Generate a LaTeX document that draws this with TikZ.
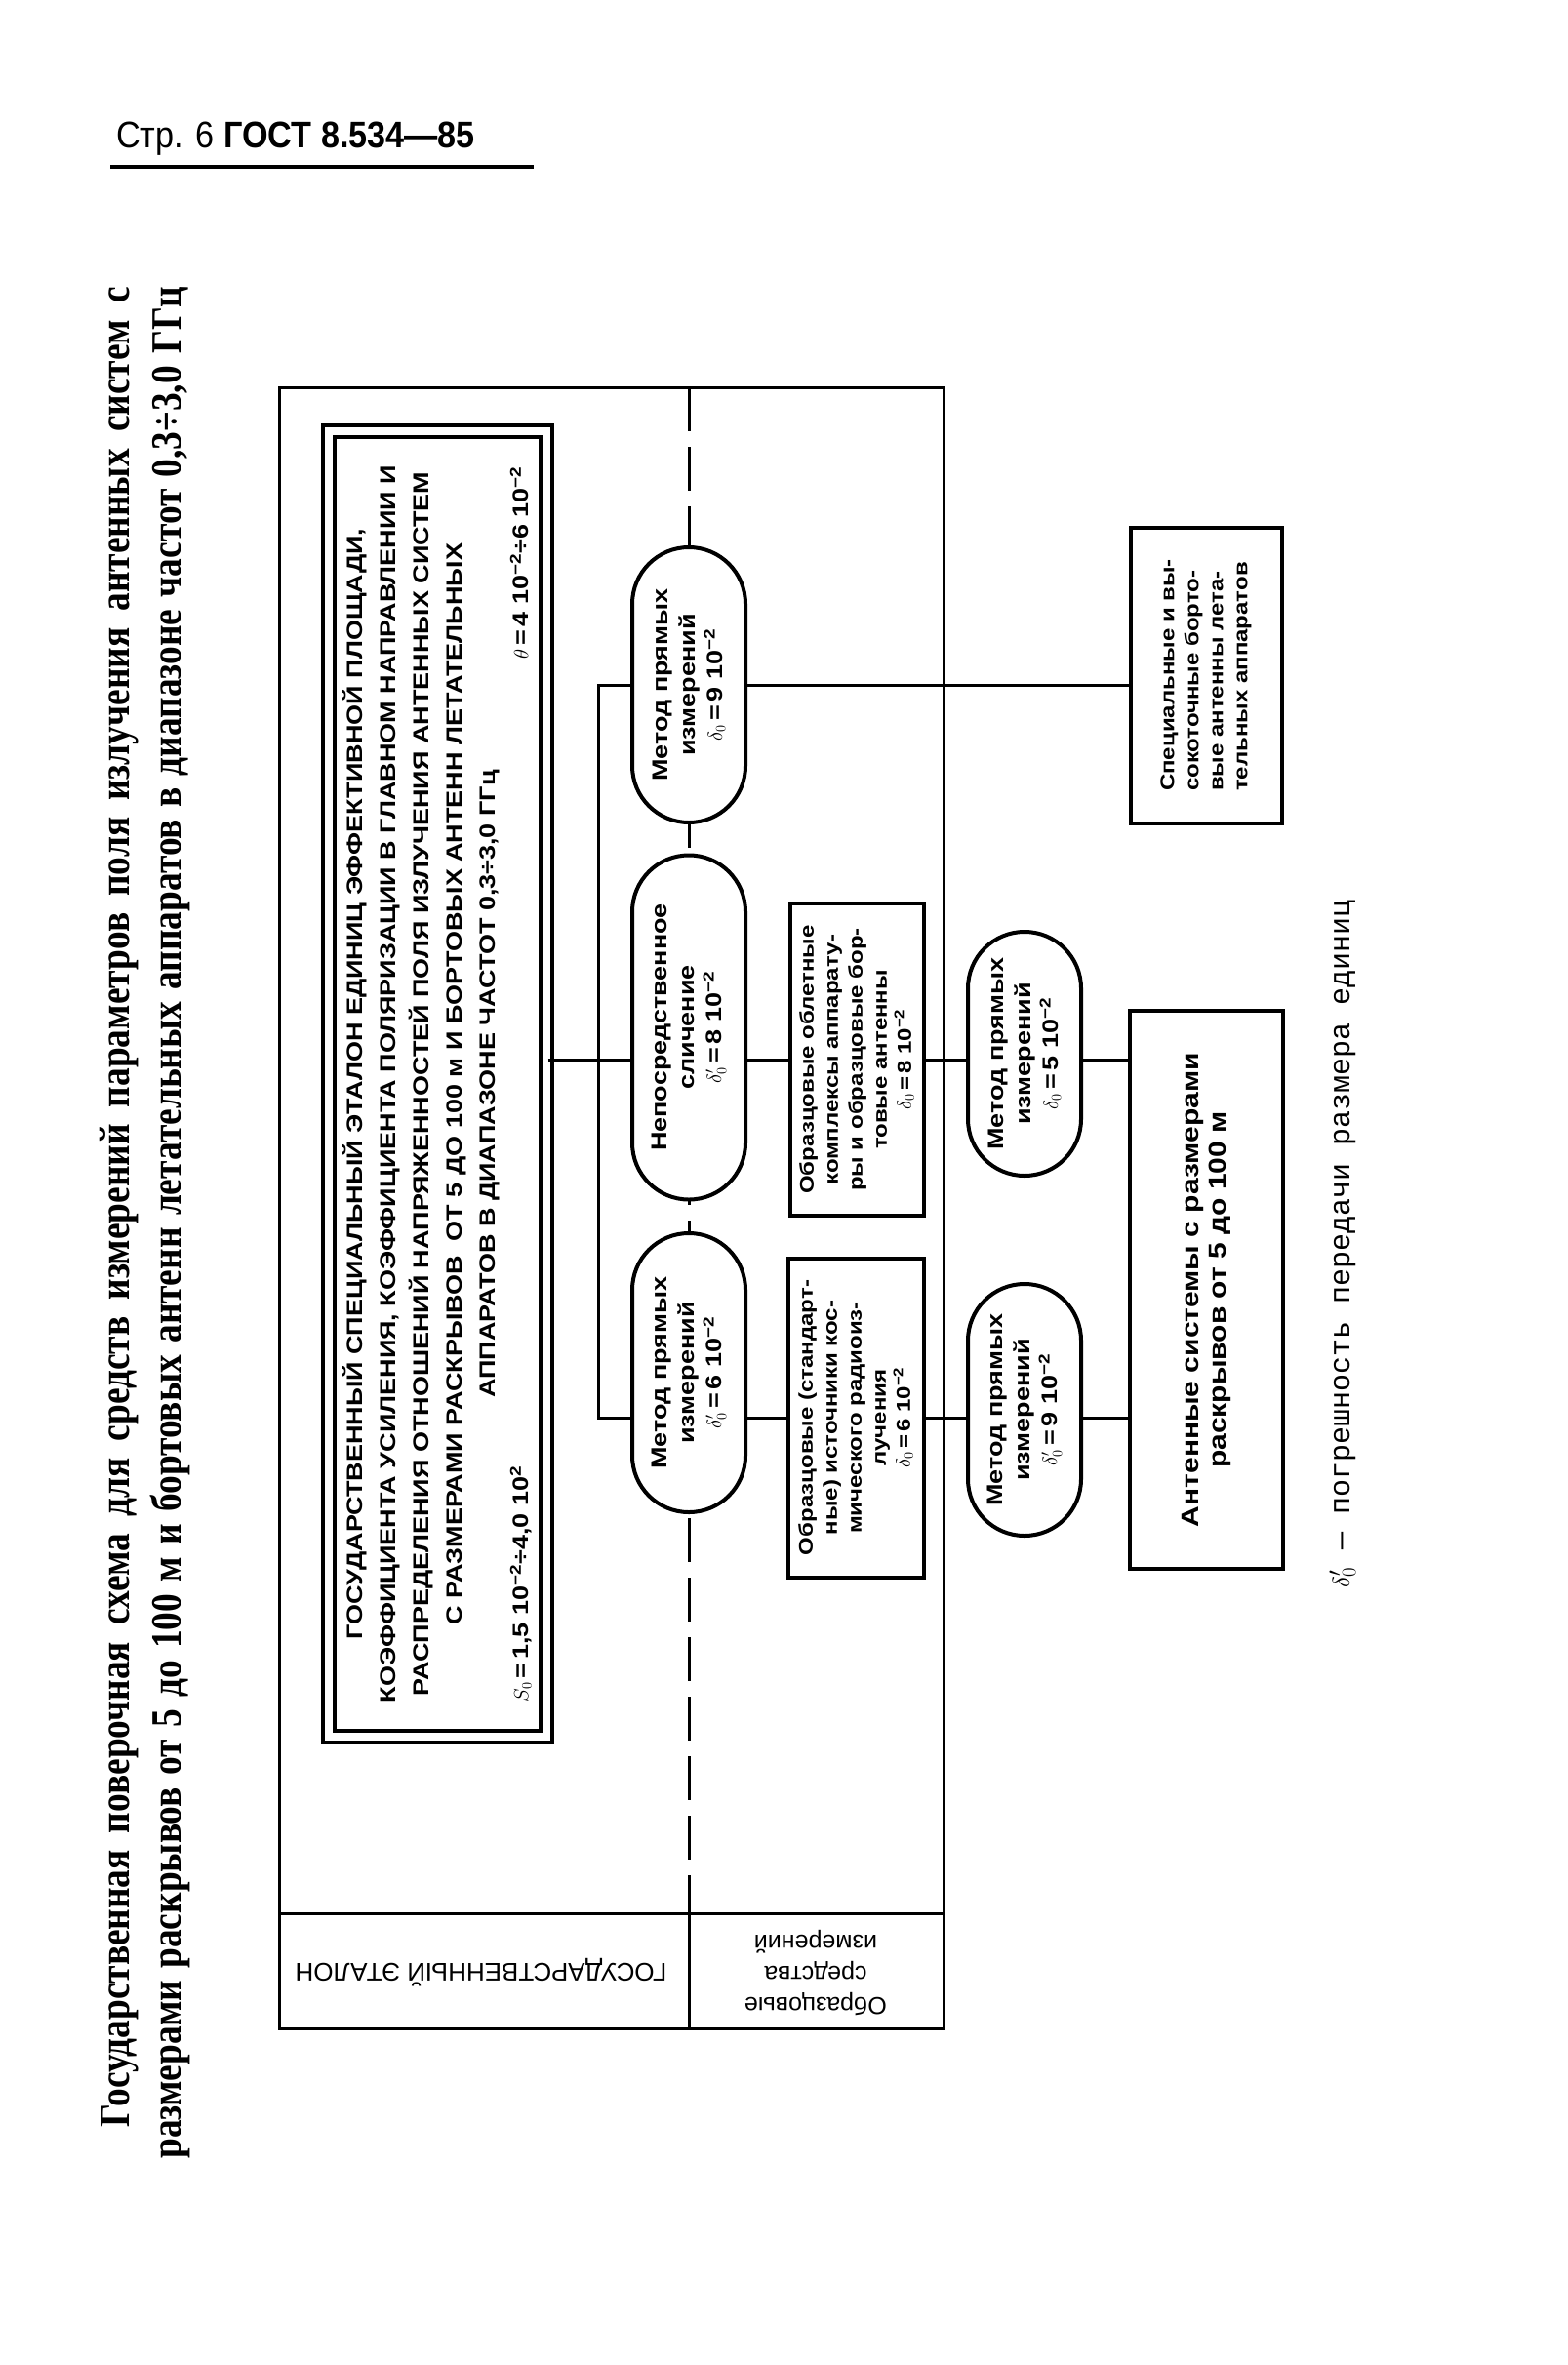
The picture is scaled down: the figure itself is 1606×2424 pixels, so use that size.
\documentclass[tikz,border=0pt]{standalone}
\usepackage{fontspec}
\setmainfont{Liberation Sans}
\newfontfamily\widesans[FakeStretch=1.2]{Liberation Sans}
\newfontfamily\headsans[FakeStretch=0.9]{Liberation Sans}
\newfontfamily\titleserif[FakeStretch=0.85]{Liberation Serif}
\newfontfamily\notemono{Liberation Mono}
\usetikzlibrary{positioning}
\usetikzlibrary{shapes.misc}
\tikzset{
	every node/.style = {inner sep=0pt},
	oval/.style = {rounded rectangle, draw, line width=4pt, fill=white, rotate=90,
		minimum height=116pt, align=center, font=\widesans\bfseries\fontsize{22.5}{28}\selectfont},
	grbox/.style = {rectangle, draw, line width=4pt, fill=white, rotate=90,
		align=center, font=\widesans\bfseries\fontsize{20}{25}\selectfont},
	link/.style = {line width=3pt}
}
\newcommand{\dnull}{$\delta_0$}
\newcommand{\dprim}{$\delta'_0$}
\newcommand{\tenm}{10\textsuperscript{−2}}

\begin{document}
\begin{tikzpicture}[x=1pt, y=-1pt]
	\useasboundingbox (0,0) rectangle (1606,2424);
	% page head
	\node[anchor=base west, font=\headsans\fontsize{38}{44}\selectfont] (head) at (119,152) {Стр. 6 \textbf{ГОСТ 8.534—85}};
	\draw[line width=4pt] (113,171) -- (547,171);
	% title
	\node[rotate=90, font=\titleserif\bfseries\fontsize{44}{50}\selectfont] (title1) at (122,1237)
		{\makebox[1886pt][s]{Государственная поверочная схема для средств измерений параметров поля излучения антенных систем с}};
	\node[rotate=90, font=\titleserif\bfseries\fontsize{44}{50}\selectfont] (title2) at (174,1253)
		{\makebox[1919pt][s]{размерами раскрывов от 5 до 100 м и бортовых антенн летательных аппаратов в диапазоне частот 0,3÷3,0 ГГц}};
	% frame and levels
	\draw[line width=3pt] (286,397) rectangle (967,2079);
	\draw[line width=3pt] (286,1961) -- (967,1961);
	\draw[line width=3pt] (706,1961) -- (706,2079);
	\coordinate (dtop) at (706,397);
	\coordinate (dbot) at (706,1961);
	\draw[line width=3pt, dash pattern=on 45pt off 16pt] (dtop) -- (dbot);
	\node[rotate=180, font=\fontsize{26}{30}\selectfont] (lvl1) at (493,2022) {ГОСУДАРСТВЕННЫЙ ЭТАЛОН};
	\node[rotate=180, align=center, font=\fontsize{25}{32}\selectfont] (lvl2) at (836,2022) {Образцовые\\средства\\измерений};
	% state standard
	\node[draw, double, double distance=8pt, line width=4pt, rotate=90, minimum width=1338pt, minimum height=223pt,
		align=center, font=\widesans\bfseries\fontsize{22.5}{34}\selectfont] (gse) at (448,1111)
		{ГОСУДАРСТВЕННЫЙ СПЕЦИАЛЬНЫЙ ЭТАЛОН ЕДИНИЦ ЭФФЕКТИВНОЙ ПЛОЩАДИ,\\
		КОЭФФИЦИЕНТА УСИЛЕНИЯ, КОЭФФИЦИЕНТА ПОЛЯРИЗАЦИИ В ГЛАВНОМ НАПРАВЛЕНИИ И\\
		РАСПРЕДЕЛЕНИЯ ОТНОШЕНИЙ НАПРЯЖЕННОСТЕЙ ПОЛЯ ИЗЛУЧЕНИЯ АНТЕННЫХ СИСТЕМ\\
		С РАЗМЕРАМИ РАСКРЫВОВ \ ОТ 5 ДО 100 м И БОРТОВЫХ АНТЕНН ЛЕТАТЕЛЬНЫХ\\
		АППАРАТОВ В ДИАПАЗОНЕ ЧАСТОТ 0,3÷3,0 ГГц\\
		\makebox[1266pt]{$S_0$\,=\,1,5 \tenm÷4,0 10\textsuperscript{2}\hfill$\theta$\,=\,4 \tenm÷6 \tenm}};
	% methods
	\node[oval, minimum width=282pt] (ovA) at (706,702) {Метод прямых\\измерений\\\dnull\,=\,9 \tenm};
	\node[oval, minimum width=353pt] (ovB) at (706,1053) {Непосредственное\\сличение\\\dprim\,=\,8 \tenm};
	\node[oval, minimum width=286pt] (ovC) at (706,1407) {Метод прямых\\измерений\\\dprim\,=\,6 \tenm};
	\node[oval, minimum width=250pt] (ovD) at (1050,1080) {Метод прямых\\измерений\\\dnull\,=\,5 \tenm};
	\node[oval, minimum width=258pt] (ovE) at (1050,1445) {Метод прямых\\измерений\\\dprim\,=\,9 \tenm};
	% reference and working means
	\node[grbox, minimum width=320pt, minimum height=137pt] (obl) at (878,1086)
		{Образцовые облетные\\комплексы аппарату-\\ры и образцовые бор-\\товые антенны\\\dnull\,=\,8 \tenm};
	\node[grbox, minimum width=327pt, minimum height=139pt] (std) at (877,1453)
		{Образцовые (стандарт-\\ные) источники кос-\\мического радиоиз-\\лучения\\\dnull\,=\,6 \tenm};
	\node[grbox, align=left, minimum width=303pt, minimum height=155pt] (spec) at (1236,692)
		{Специальные и вы-\\сокоточные борто-\\вые антенны лета-\\тельных аппаратов};
	\node[grbox, minimum width=572pt, minimum height=157pt, font=\widesans\bfseries\fontsize{25}{28}\selectfont] (ant) at (1236,1322)
		{Антенные системы с размерами\\раскрывов от 5 до 100 м};
	% links
	\coordinate (brk) at (613,702);
	\draw[link] (ovA.north) -- (ovA.north -| brk) -- (std.center -| brk) -- (std.center -| ovC.north);
	\draw[link] (gse.south |- obl.center) -- (obl.center -| ovB.north);
	\draw[link] (ovA.south) -- (ovA.south -| spec.north);
	\foreach \row/\m/\r in {obl/ovB/ovD, std/ovC/ovE} {
		\draw[link] (\row.center -| \m.south) -- (\row.north);
		\draw[link] (\row.south) -- (\row.center -| \r.north);
		\draw[link] (\row.center -| \r.south) -- (\row.center -| ant.north);
	}
	% note
	\node[rotate=90, font=\notemono\fontsize{30}{34}\selectfont] (note) at (1376,1275)
		{\dprim\ — погрешность передачи размера единиц};
\end{tikzpicture}
\end{document}
